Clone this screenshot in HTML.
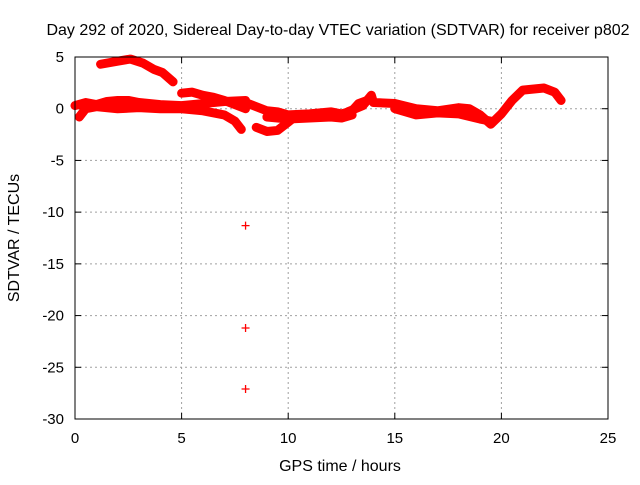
<!DOCTYPE html>
<html><head><meta charset="utf-8"><style>
body{margin:0;background:#fff}
svg text{font-family:"Liberation Sans",sans-serif;font-size:15px;fill:#000}
svg text.big{font-size:16px}
</style></head><body>
<svg id="chart" width="640" height="480" xmlns="http://www.w3.org/2000/svg">
<rect width="640" height="480" fill="#fff"/>
<g id="grid"></g>
<g id="ticks"></g>
<g id="series"></g>
<rect x="75" y="57" width="533" height="362" fill="none" stroke="#000" stroke-width="1"/>
<text class="big" x="338" y="35" text-anchor="middle">Day 292 of 2020, Sidereal Day-to-day VTEC variation (SDTVAR) for receiver p802</text>
<text class="big" x="340" y="471" text-anchor="middle">GPS time / hours</text>
<text class="big" transform="translate(19,238) rotate(-90)" text-anchor="middle">SDTVAR / TECUs</text>
</svg>
<script>
const xTicks=[0,5,10,15,20,25];
const yTicks=[5,0,-5,-10,-15,-20,-25,-30];
const trackA=[[1.2,4.3],[2,4.6],[2.6,4.8],[3.2,4.4],[3.7,3.8],[4.1,3.5],[4.6,2.6]];
const trackB=[[0,0.3],[0.5,0.6],[1,0.4],[1.5,0.7],[2,0.8],[2.5,0.8],[3,0.6],[4,0.4],[5,0.3],[6,0.5],[7,0.7],[8,0.8]];
const trackC=[[0.2,-0.8],[0.5,0.0],[1,0.2],[2,0.0],[3,0.1],[4,0.0],[5,0.0],[6,-0.2],[7,-0.6],[7.5,-1.2],[7.8,-2.0]];
const trackD=[[5,1.5],[5.5,1.6],[6,1.3],[6.5,1.1],[7,0.8],[7.5,0.4],[8,0.0]];
const trackE=[[8,0.6],[8.5,0.2],[9,-0.2],[9.5,-0.3],[10,-0.6],[11,-0.5],[12,-0.3],[12.5,-0.5],[13,-0.2],[13.3,0.5],[13.7,0.8]];
const trackE2=[[9,-0.8],[10,-1.0],[11,-0.9],[12,-0.8],[12.5,-0.9],[13,-0.6]];
const trackF=[[8.5,-1.8],[9,-2.2],[9.5,-2.1],[10,-1.3],[10.3,-0.8]];
const trackG=[[12.8,-0.3],[13.5,0.3],[13.9,1.3],[14,0.6],[15,0.5],[16,0.0],[17,-0.2],[18,0.1],[18.5,0.0],[19,-0.6],[19.5,-1.5],[20,-0.5],[20.5,0.8],[21,1.8],[22,2.0],[22.5,1.6],[22.8,0.8]];
const trackH=[[15,0.0],[16,-0.6],[17,-0.4],[18,-0.5],[19,-1.0],[19.5,-1.2]];
const outliers=[[8,-11.3],[8,-21.2],[8,-27.1]];
const tracks=[trackA,trackB,trackC,trackD,trackE,trackE2,trackF,trackG,trackH];
const X0=75,X1=608,Y0=419,Y1=57,XMIN=0,XMAX=25,YMIN=-30,YMAX=5;
const sx=v=>X0+(v-XMIN)/(XMAX-XMIN)*(X1-X0);
const sy=v=>Y0-(v-YMIN)/(YMAX-YMIN)*(Y0-Y1);
const NS="http://www.w3.org/2000/svg";
const grid=document.getElementById('grid'),ticks=document.getElementById('ticks'),ser=document.getElementById('series');
function mk(t,a,p){const e=document.createElementNS(NS,t);for(const k in a)e.setAttribute(k,a[k]);p.appendChild(e);return e;}
xTicks.forEach(v=>{const x=sx(v);
 if(v>XMIN&&v<XMAX){const g=mk('line',{x1:x,x2:x,y1:Y1,y2:Y0,stroke:'#a0a0a0','stroke-dasharray':'2,3'},grid);
 
 }
 mk('line',{x1:x,x2:x,y1:Y0,y2:Y0-6,stroke:'#000'},ticks);mk('line',{x1:x,x2:x,y1:Y1,y2:Y1+6,stroke:'#000'},ticks);
 const t=mk('text',{x:x,y:Y0+24,'text-anchor':'middle'},ticks);t.textContent=v;
 
 });
yTicks.forEach(v=>{const y=sy(v);
 if(v>YMIN&&v<YMAX){const g=mk('line',{x1:X0,x2:X1,y1:y,y2:y,stroke:'#a0a0a0','stroke-dasharray':'2,3'},grid);
 
 }
 mk('line',{x1:X0,x2:X0+6,y1:y,y2:y,stroke:'#000'},ticks);mk('line',{x1:X1,x2:X1-6,y1:y,y2:y,stroke:'#000'},ticks);
 const t=mk('text',{x:X0-11,y:y+5,'text-anchor':'end'},ticks);t.textContent=v;
 
 });
tracks.forEach(tr=>{const p=mk('polyline',{points:tr.map(d=>sx(d[0])+','+sy(d[1])).join(' '),fill:'none',stroke:'#f00','stroke-width':9,'stroke-linejoin':'round','stroke-linecap':'round'},ser);
 
 });
outliers.forEach(d=>{const x=sx(d[0]),y=sy(d[1]);
 const p=mk('path',{d:`M${x-4},${y}H${x+4}M${x},${y-4}V${y+4}`,stroke:'#f00','stroke-width':1.3},ser);
 
 });
</script>
</body></html>
